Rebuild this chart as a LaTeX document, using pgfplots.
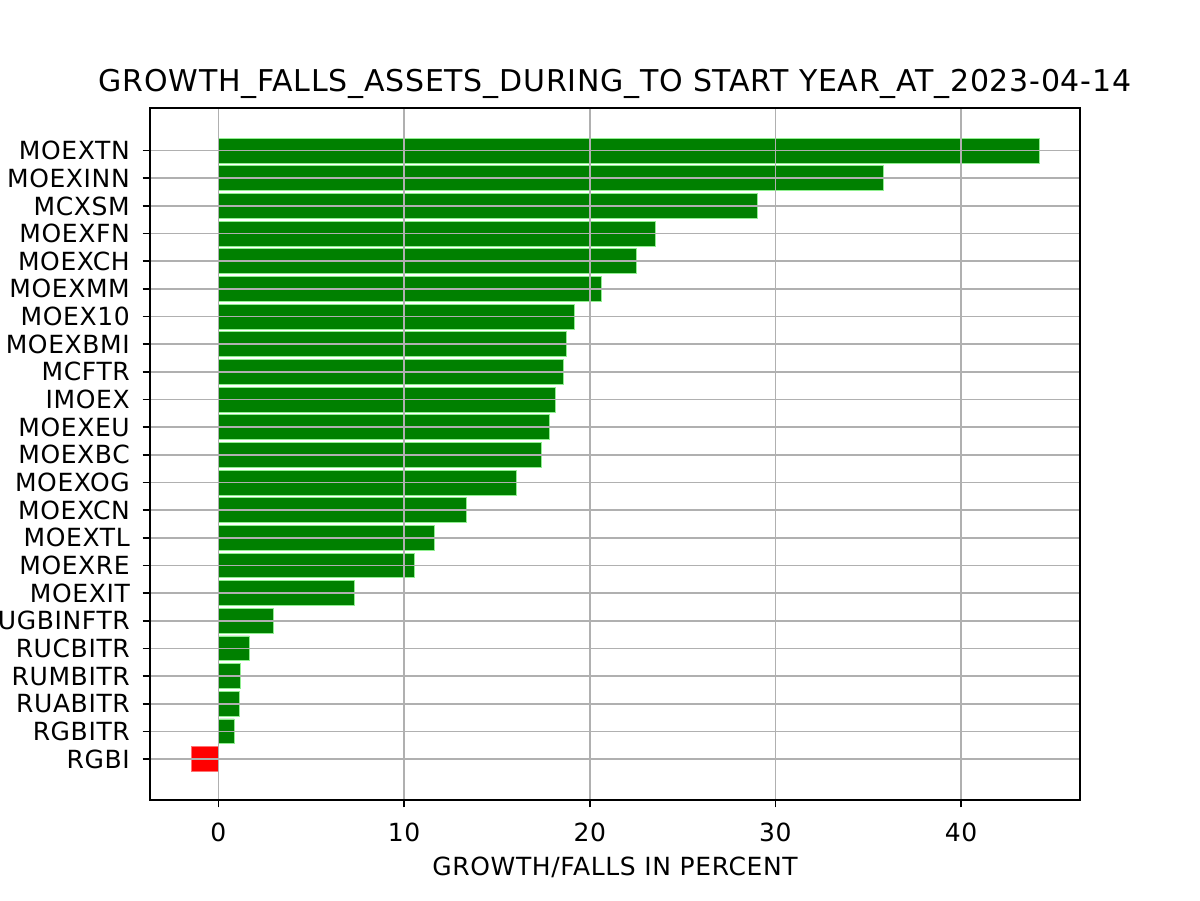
\documentclass[border=0pt]{standalone}
\usepackage{fontspec}
\setmainfont[LetterSpace=2.5]{DejaVu Sans}
\usepackage{pgfplots}
\pgfplotsset{compat=1.18}
\definecolor{mplgreen}{HTML}{008000}
\definecolor{lgreen}{HTML}{90EE90}
\definecolor{gridgray}{HTML}{B0B0B0}
\begin{document}
\begin{tikzpicture}
\path[use as bounding box] (-72pt,-48pt) rectangle (504pt,384pt);
\begin{axis}[
  at={(0pt,0pt)}, anchor=south west,
  scale only axis, width=446.4pt, height=332.16pt,
  xmin=-3.68, xmax=46.40, ymin=-1.48, ymax=23.54,
  xbar, bar width=0.9, bar shift=0pt,
  xtick={0,10,20,30,40},
  ytick={0,...,22},
  yticklabels={RGBI,RGBITR,RUABITR,RUMBITR,RUCBITR,UGBINFTR,MOEXIT,MOEXRE,MOEXTL,MOEXCN,MOEXOG,MOEXBC,MOEXEU,IMOEX,MCFTR,MOEXBMI,MOEX10,MOEXMM,MOEXCH,MOEXFN,MCXSM,MOEXINN,MOEXTN},
  /pgf/number format/assume math mode=true,
  tick align=outside, xtick pos=lower, ytick pos=left,
  major tick length=3.5pt,
  every tick/.style={black, line width=0.8pt},
  axis line style={line width=0.8pt},
  grid=major, major grid style={gridgray, line width=0.8pt},
  axis on top,
  ticklabel style={font=\fontsize{12}{14}\selectfont},
  yticklabel style={inner sep=0pt, xshift=-6pt},
  xticklabel style={inner sep=0pt, yshift=-7.5pt},
  title={GROWTH\_FALLS\_ASSETS\_DURING\_TO START YEAR\_AT\_2023-04-14},
  title style={font=\fontsize{14.4}{17}\selectfont, inner sep=0pt, at={(0.5,1)}, anchor=base, yshift=1.8pt},
  xlabel={GROWTH/FALLS IN PERCENT},
  xlabel style={font=\fontsize{12}{14}\selectfont, inner sep=0pt, at={(0.5,0)}, anchor=base, yshift=-36pt},
]
\addplot[fill=mplgreen, draw=lgreen, line width=0.4pt] coordinates {
(0.85,1) (1.13,2) (1.21,3) (1.67,4) (2.98,5) (7.32,6) (10.58,7) (11.62,8) (13.34,9) (16.07,10) (17.38,11) (17.82,12) (18.15,13) (18.60,14) (18.76,15) (19.17,16) (20.64,17) (22.51,18) (23.56,19) (29.05,20) (35.81,21) (44.20,22)
};
\addplot[fill=red, draw=red!55!white, line width=0.4pt] coordinates {(-1.47,0)};
\end{axis}
\end{tikzpicture}
\end{document}
